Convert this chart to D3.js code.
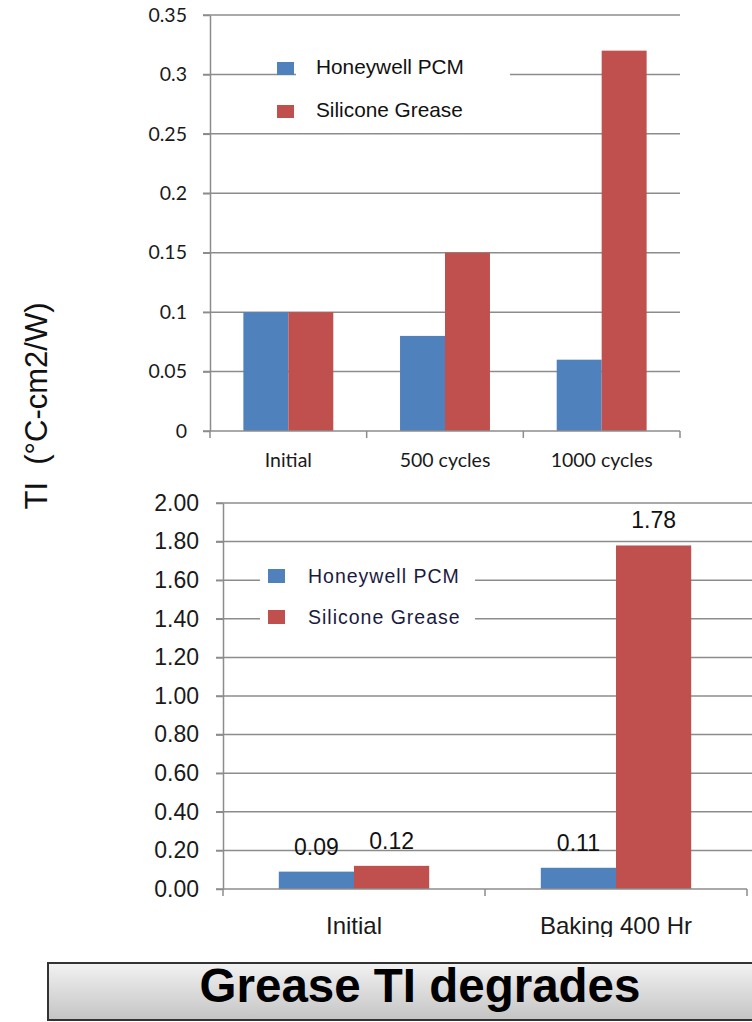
<!DOCTYPE html>
<html>
<head>
<meta charset="utf-8">
<script src="https://cdn.jsdelivr.net/npm/d3@7"></script>
<style>
  html, body { margin: 0; padding: 0; background: #fff; }
  svg { display: block; }
</style>
</head>
<body>
<svg id="chart" width="752" height="1022"></svg>
<script>
// Series names shared by both panels
const seriesNames = ["Honeywell PCM", "Silicone Grease"];
const seriesColors = ["#4f81bd", "#c0504d"];

// Thermal cycling panel
const cycleCategories = ["Initial", "500 cycles", "1000 cycles"];
const cyclePCM = [0.10, 0.08, 0.06];
const cycleGrease = [0.10, 0.15, 0.32];
const cycleTicks = [0, 0.05, 0.1, 0.15, 0.2, 0.25, 0.3, 0.35];
const cycleTickLabels = ["0", "0.05", "0.1", "0.15", "0.2", "0.25", "0.3", "0.35"];

// Baking panel
const bakeCategories = ["Initial", "Baking 400 Hr"];
const bakePCM = [0.09, 0.11];
const bakeGrease = [0.12, 1.78];
const bakeTicks = [0, 0.2, 0.4, 0.6, 0.8, 1.0, 1.2, 1.4, 1.6, 1.8, 2.0];
const bakeLabels = [["0.09", "0.11"], ["0.12", "1.78"]];

const yTitle = "TI  (\u00B0C-cm2/W)";
const banner = "Grease TI degrades";

const svg = d3.select("#chart");
const gridColor = "#8c8c8c";

function panel(opts) {
  const g = svg.append("g");
  const x0 = d3.scaleBand().domain(opts.categories).range([opts.left, opts.right]);
  const bw = x0.bandwidth();
  const x1 = d3.scaleBand().domain(seriesNames).range([bw * 0.213, bw * 0.787]);
  const y = d3.scaleLinear().domain([0, opts.max]).range([opts.bottom, opts.top]);

  // gridlines
  g.selectAll("line.grid").data(opts.ticks.filter(t => t > 0)).join("line")
    .attr("x1", opts.left - 7).attr("x2", opts.gridRight)
    .attr("y1", d => y(d)).attr("y2", d => y(d))
    .attr("stroke", gridColor).attr("stroke-width", 1.5);

  // y axis
  const yAxis = d3.axisLeft(y).tickValues(opts.ticks).tickSize(7).tickSizeOuter(0)
    .tickFormat((d, i) => opts.tickFormat(d, i));
  const ya = g.append("g").attr("transform", `translate(${opts.left},0)`).call(yAxis);
  ya.select(".domain").attr("stroke", gridColor).attr("stroke-width", 1.5);
  ya.selectAll(".tick line").attr("stroke", gridColor).attr("stroke-width", 1.5);
  ya.selectAll(".tick text")
    .attr("x", -opts.tickPad)
    .style("font-family", opts.tickFont)
    .style("font-size", opts.tickSize + "px")
    .attr("fill", "#1a1a1a");

  // bars
  const rows = opts.categories.map((c, i) => ({
    cat: c, values: [opts.pcm[i], opts.grease[i]]
  }));
  const groups = g.selectAll("g.cat").data(rows).join("g")
    .attr("transform", d => `translate(${x0(d.cat)},0)`);
  groups.selectAll("rect").data(d => d.values.map((v, j) => ({ v, j, cat: d.cat })))
    .join("rect")
    .attr("x", d => x1(seriesNames[d.j]))
    .attr("width", x1.bandwidth())
    .attr("y", d => y(d.v))
    .attr("height", d => y(0) - y(d.v))
    .attr("fill", d => seriesColors[d.j]);

  // x axis
  const xAxis = d3.axisBottom(x0).tickSize(0).tickSizeOuter(0);
  const xa = g.append("g").attr("transform", `translate(0,${opts.bottom})`).call(xAxis);
  xa.select(".domain").remove();
  g.append("line")
    .attr("x1", opts.left - 7).attr("x2", opts.right)
    .attr("y1", y(0)).attr("y2", y(0))
    .attr("stroke", gridColor).attr("stroke-width", 1.5);
  const bounds = [opts.left].concat(opts.categories.map(c => x0(c) + bw));
  g.selectAll("line.xtick").data(bounds).join("line")
    .attr("x1", d => d).attr("x2", d => d)
    .attr("y1", y(0)).attr("y2", y(0) + 7)
    .attr("stroke", gridColor).attr("stroke-width", 1.5);
  xa.selectAll(".tick text")
    .attr("y", opts.catDy)
    .attr("dy", 0)
    .style("font-family", opts.catFont)
    .style("font-size", opts.catSize + "px")
    .attr("fill", "#1a1a1a");
  if (opts.clipBottom) {
    const clipId = "catclip";
    svg.append("clipPath").attr("id", clipId).attr("clipPathUnits", "userSpaceOnUse")
      .append("rect")
      .attr("x", 0).attr("y", -opts.bottom).attr("width", 752).attr("height", opts.clipBottom);
    xa.attr("clip-path", `url(#${clipId})`);
  }

  return { g, x0, x1, y };
}

// ---- upper panel ----
const upper = panel({
  categories: cycleCategories, pcm: cyclePCM, grease: cycleGrease,
  ticks: cycleTicks, max: 0.35,
  tickFormat: (d, i) => cycleTickLabels[i],
  left: 210, right: 680, gridRight: 680, top: 15, bottom: 431,
  tickPad: 23, tickFont: "Lato, 'Open Sans', sans-serif", tickSize: 19.5,
  catFont: "Lato, 'Open Sans', sans-serif", catSize: 19.5, catDy: 36
});

// upper legend
const legTop = upper.g.append("g");
legTop.append("rect").attr("x", 296).attr("y", 45).attr("width", 214).attr("height", 84).attr("fill", "#fff");
seriesNames.forEach((name, j) => {
  const cy = 68 + j * 43;
  legTop.append("rect").attr("x", 277).attr("y", cy - 6).attr("width", 17).attr("height", 13)
    .attr("fill", seriesColors[j]);
  legTop.append("text").attr("x", 316).attr("y", cy + 6)
    .style("font-family", "Arial, 'Liberation Sans', sans-serif").style("font-size", "20.8px")
    .attr("fill", "#111").text(name);
});

// ---- lower panel ----
const lower = panel({
  categories: bakeCategories, pcm: bakePCM, grease: bakeGrease,
  ticks: bakeTicks, max: 2.0,
  tickFormat: d => d.toFixed(2),
  left: 223, right: 747, gridRight: 752, top: 503, bottom: 889,
  tickPad: 24, tickFont: "Arial, 'Liberation Sans', sans-serif", tickSize: 23,
  catFont: "Arial, 'Liberation Sans', sans-serif", catSize: 24, catDy: 45,
  clipBottom: 937
});

// value labels
bakeCategories.forEach((c, i) => {
  [bakePCM[i], bakeGrease[i]].forEach((v, j) => {
    lower.g.append("text")
      .attr("x", lower.x0(c) + lower.x1(seriesNames[j]) + lower.x1.bandwidth() / 2)
      .attr("y", lower.y(v) - 17)
      .attr("text-anchor", "middle")
      .style("font-family", "Arial, 'Liberation Sans', sans-serif")
      .style("font-size", "23px")
      .attr("fill", "#111")
      .text(bakeLabels[j][i]);
  });
});

// lower legend
const legBot = lower.g.append("g");
legBot.append("rect").attr("x", 260).attr("y", 553).attr("width", 215).attr("height", 88).attr("fill", "#fff");
seriesNames.forEach((name, j) => {
  const cy = 576 + j * 41;
  legBot.append("rect").attr("x", 268).attr("y", cy - 7).attr("width", 17).attr("height", 14)
    .attr("fill", seriesColors[j]);
  legBot.append("text").attr("x", 308).attr("y", cy + 7)
    .style("font-family", "Arial, 'Liberation Sans', sans-serif").style("font-size", "19.5px")
    .style("letter-spacing", "1px")
    .attr("fill", "#1a1a40").text(name);
});

// shared y-axis title
svg.append("text")
  .attr("transform", "translate(47,406) rotate(-90)")
  .attr("text-anchor", "middle")
  .style("font-family", "Arial, 'Liberation Sans', sans-serif")
  .style("font-size", "31px")
  .style("white-space", "pre")
  .attr("fill", "#111")
  .text(yTitle);

// banner
const defs = svg.append("defs");
const grad = defs.append("linearGradient").attr("id", "bannerGrad")
  .attr("x1", 0).attr("y1", 0).attr("x2", 0).attr("y2", 1);
grad.append("stop").attr("offset", "0%").attr("stop-color", "#f2f2f2");
grad.append("stop").attr("offset", "100%").attr("stop-color", "#c4c4c4");
svg.append("rect")
  .attr("x", 48).attr("y", 963).attr("width", 720).attr("height", 57)
  .attr("fill", "url(#bannerGrad)").attr("stroke", "#333").attr("stroke-width", 2);
svg.append("text")
  .attr("x", 420).attr("y", 1002)
  .attr("text-anchor", "middle")
  .style("font-family", "Arial, 'Liberation Sans', sans-serif")
  .style("font-size", "47.5px").style("font-weight", "bold")
  .attr("fill", "#000")
  .text(banner);
</script>
</body>
</html>
